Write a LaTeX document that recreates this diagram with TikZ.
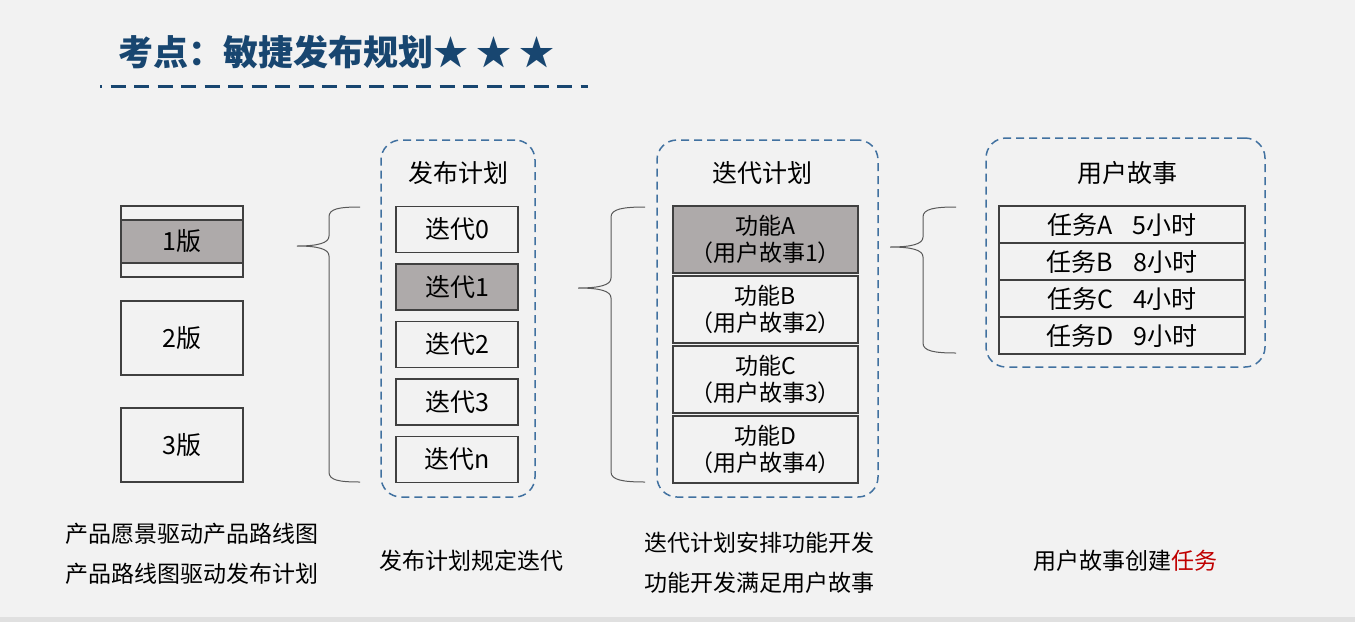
\documentclass[tikz,border=0pt]{standalone}
\usepackage{fontspec}
\newfontfamily\cjk{Noto Sans CJK SC}
\usepackage{tikz}
\usepackage{xcolor}
\definecolor{titleblue}{RGB}{24,70,112}
\definecolor{frameblue}{RGB}{65,113,160}
\definecolor{boxgray}{RGB}{174,170,170}
\definecolor{linegray}{RGB}{64,64,64}
\definecolor{bggray}{RGB}{242,242,242}
\definecolor{taskred}{RGB}{192,0,0}
\usetikzlibrary{positioning}

\begin{document}
\begin{tikzpicture}[x=1pt, y=-1pt,
    box/.style={draw=linegray, line width=1.4pt, inner sep=0pt, text=black, font=\cjk\fontsize{25}{30}\selectfont},
    featbox/.style={box, align=center, minimum width=185pt, minimum height=67pt, font=\cjk\fontsize{23}{27}\selectfont},
    frame/.style={draw=frameblue, line width=1.5pt, dash pattern=on 8pt off 5pt, rounded corners=20pt, inner sep=0pt},
    frametitle/.style={text=black, font=\cjk\fontsize{25}{30}\selectfont},
    caption/.style={text=black, font=\cjk\fontsize{23}{40}\selectfont},
    bracket/.style={draw=black!65, line width=1pt}
  ]
    \useasboundingbox (0,0) rectangle (1355,622);
    \fill[bggray] (0,0) rectangle (1355,622);
    \fill[black!12] (0,617) rectangle (1355,622);

    % Title
    \node[anchor=west, inner sep=0pt, text=titleblue, font=\cjk\bfseries\fontsize{35}{40}\selectfont] (title) at (118,52) {考点：敏捷发布规划★ ★ ★};
    \draw[titleblue, line width=3pt, dash pattern=on 15pt off 8.5pt, dash phase=13pt] (100,86) -- (588,86);

    % Releases
    \node[box, minimum width=122pt, minimum height=71pt] (rel1) at (182,241.5) {};
    \node[box, fill=boxgray, minimum width=122pt, minimum height=43pt] (rel1band) at (182,241.5) {1版};
    \node[box, minimum width=122pt, minimum height=74pt] (rel2) at (182,338) {2版};
    \node[box, minimum width=122pt, minimum height=74pt] (rel3) at (182,445) {3版};

    % Release plan
    \node[frame, minimum width=154pt, minimum height=357pt] (relplan) at (458,318.5) {};
    \node[frametitle] (relplantitle) at (458,173) {发布计划};
    \foreach \i/\t/\f in {0/0/none,1/1/boxgray,2/2/none,3/3/none,4/n/none}
        \node[box, fill=\f, minimum width=122pt, minimum height=46pt] (iter\i) at (457,229.5+57.5*\i) {迭代\t{}};

    % Iteration plan
    \node[frame, minimum width=221pt, minimum height=357pt] (iterplan) at (767.5,318.5) {};
    \node[frametitle] (iterplantitle) at (762,173) {迭代计划};
    \foreach \i/\t/\k/\f in {0/A/1/boxgray,1/B/2/none,2/C/3/none,3/D/4/none}
        \node[featbox, fill=\f] (feat\i) at (765.5,239.5+70*\i) {功能\t{}\\（用户故事\k{}）};

    % User story
    \node[frame, minimum width=279pt, minimum height=229pt] (story) at (1125.5,252.5) {};
    \node[frametitle] (storytitle) at (1127,173) {用户故事};
    \foreach \i/\t/\h in {0/A/5,1/B/8,2/C/4,3/D/9}
        \node[box, minimum width=246pt, minimum height=37pt] (task\i) at (1122,224.5+37*\i) {任务\t{}\hspace{20pt}\h{}小时};

    % Braces
    \draw[bracket] (360,207) .. controls (338,207) and (329,209) .. (329,217) -- (329,236)
        .. controls (329,243) and (318,246) .. (297,246) .. controls (318,246) and (329,249) .. (329,256)
        -- (329,472) .. controls (329,480) and (338,482) .. (360,482);
    \draw[bracket] (645,207) .. controls (623,207) and (611,209) .. (611,217) -- (611,278)
        .. controls (611,285) and (600,288) .. (578,288) .. controls (600,288) and (611,291) .. (611,298)
        -- (611,472) .. controls (611,480) and (623,482) .. (645,482);
    \draw[bracket] (956,207) .. controls (934,207) and (923,209) .. (923,217) -- (923,237)
        .. controls (923,244) and (912,247) .. (890,247) .. controls (912,247) and (923,250) .. (923,257)
        -- (923,343) .. controls (923,351) and (934,353) .. (956,353);

    % Captions
    \node[caption, anchor=west, align=left] (visioncap) at (62,553.5) {产品愿景驱动产品路线图\\产品路线图驱动发布计划};
    \node[caption] (relcap) at (471,561) {发布计划规定迭代};
    \node[caption, align=center] (itercap) at (759,562.5) {迭代计划安排功能开发\\功能开发满足用户故事};
    \node[caption] (storycap) at (1125,561) {用户故事创建\textcolor{taskred}{任务}};
\end{tikzpicture}
\end{document}
